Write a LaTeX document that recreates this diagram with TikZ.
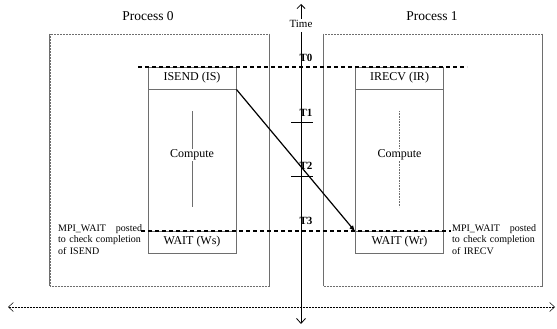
\documentclass[tikz,border=0pt]{standalone}
\usepackage{fontspec}
\setmainfont{Liberation Serif}
\usetikzlibrary{arrows.meta}
\definecolor{framegray}{RGB}{110, 110, 110}

\tikzset{
  procbox/.style={draw=framegray, line width=0.5pt, densely dotted, minimum width=219pt, minimum height=252pt, inner sep=0pt},
  callbox/.style={draw=framegray, line width=0.8pt, minimum width=88pt, inner sep=0pt, font=\fontsize{12}{13}\selectfont},
  tlabel/.style={font=\fontsize{11}{12}\selectfont\bfseries, inner sep=0pt},
  note/.style={font=\fontsize{10}{11.5}\selectfont, align=left, text width=89pt, inner sep=0pt},
  phase/.style={line width=1.1pt, dash pattern=on 4pt off 3pt}
}

\begin{document}
\begin{tikzpicture}[x=1pt, y=-1pt]
  \useasboundingbox (0,0) rectangle (557,329);

  % process frames
  \node[procbox] (proc0) at (159.5,160) {};
  \node[procbox] (proc1) at (433,160) {};
  \draw[framegray, line width=0.6pt] (proc0.north west) -- (proc0.south west);
  \draw[framegray, line width=0.6pt] (proc0.north east) -- (proc0.south east);
  \draw[framegray, line width=0.6pt] (proc1.north west) -- (proc1.south west);
  \draw[framegray, line width=0.6pt] (proc1.north east) -- (proc1.south east);
  \node[font=\fontsize{13.5}{14}\selectfont] (title0) at (148,16) {Process 0};
  \node[font=\fontsize{13.5}{14}\selectfont] (title1) at (432,16) {Process 1};

  % sender side
  \node[callbox, minimum height=22pt] (isend) at (192,78) {ISEND (IS)};
  \node[callbox, minimum height=142pt] (compS) at (192,160) {};
  \node[callbox, minimum height=22pt] (waitS) at (192,242) {WAIT (Ws)};
  \coordinate (lineS0) at (192,111);
  \coordinate (lineS1) at (192,207);
  \draw[framegray, line width=0.8pt] (lineS0) -- (lineS1);
  \node[fill=white, inner sep=0.5pt, font=\fontsize{12}{13}\selectfont] (cmpS) at (192,155) {Compute};

  % receiver side
  \node[callbox, minimum height=22pt] (irecv) at (399.5,78) {IRECV (IR)};
  \node[callbox, minimum height=142pt] (compR) at (399.5,160) {};
  \node[callbox, minimum height=22pt] (waitR) at (399.5,242) {WAIT (Wr)};
  \coordinate (lineR0) at (399.5,111);
  \coordinate (lineR1) at (399.5,207);
  \draw[framegray, line width=0.6pt, densely dotted] (lineR0) -- (lineR1);
  \node[fill=white, inner sep=0.5pt, font=\fontsize{12}{13}\selectfont] (cmpR) at (399.5,155) {Compute};

  % notes
  \node[note, anchor=north west] (noteS) at (58,224) {MPI\_WAIT\hspace{1em}posted\\to check completion\\of ISEND};
  \node[note, anchor=north west] (noteR) at (452,224) {MPI\_WAIT\hspace{1em}posted\\to check completion\\of IRECV};

  % phase lines
  \coordinate (t0a) at (138,67);
  \coordinate (t0b) at (467,67);
  \coordinate (t3a) at (141,231);
  \coordinate (t3b) at (451,231);
  \draw[phase] (t0a) -- (t0b);
  \draw[phase] (t3a) -- (t3b);

  % time axis
  \node[font=\fontsize{11}{12}\selectfont, inner sep=1pt] (time) at (301,24) {Time};
  \coordinate (tup) at (301,4);
  \coordinate (ttop) at (301,32);
  \coordinate (tbot) at (301,324);
  \draw[line width=0.8pt, -{Straight Barb[length=4pt, width=8pt]}] (time.north) -- (tup);
  \draw[line width=0.8pt, -{Straight Barb[length=5pt, width=9pt]}] (ttop) -- (tbot);
  \node[tlabel] (T0) at (306,58) {T0};
  \node[tlabel] (T1) at (306,113) {T1};
  \node[tlabel] (T2) at (306,166) {T2};
  \node[tlabel] (T3) at (306,221) {T3};
  \coordinate (k1a) at (291,122);
  \coordinate (k1b) at (313,122);
  \coordinate (k2a) at (291,176);
  \coordinate (k2b) at (313,176);
  \draw[line width=0.6pt] (k1a) -- (k1b);
  \draw[line width=0.6pt] (k2a) -- (k2b);

  % space axis
  \coordinate (xl) at (8,307);
  \coordinate (xr) at (555,307);
  \draw[line width=0.5pt, densely dotted, {Straight Barb[length=5pt, width=9pt]}-{Straight Barb[length=5pt, width=9pt]}] (xl) -- (xr);

  % message
  \draw[line width=1.2pt, -{Latex[length=6pt, width=5pt]}] (isend.south east) -- (compR.south west);
\end{tikzpicture}
\end{document}
